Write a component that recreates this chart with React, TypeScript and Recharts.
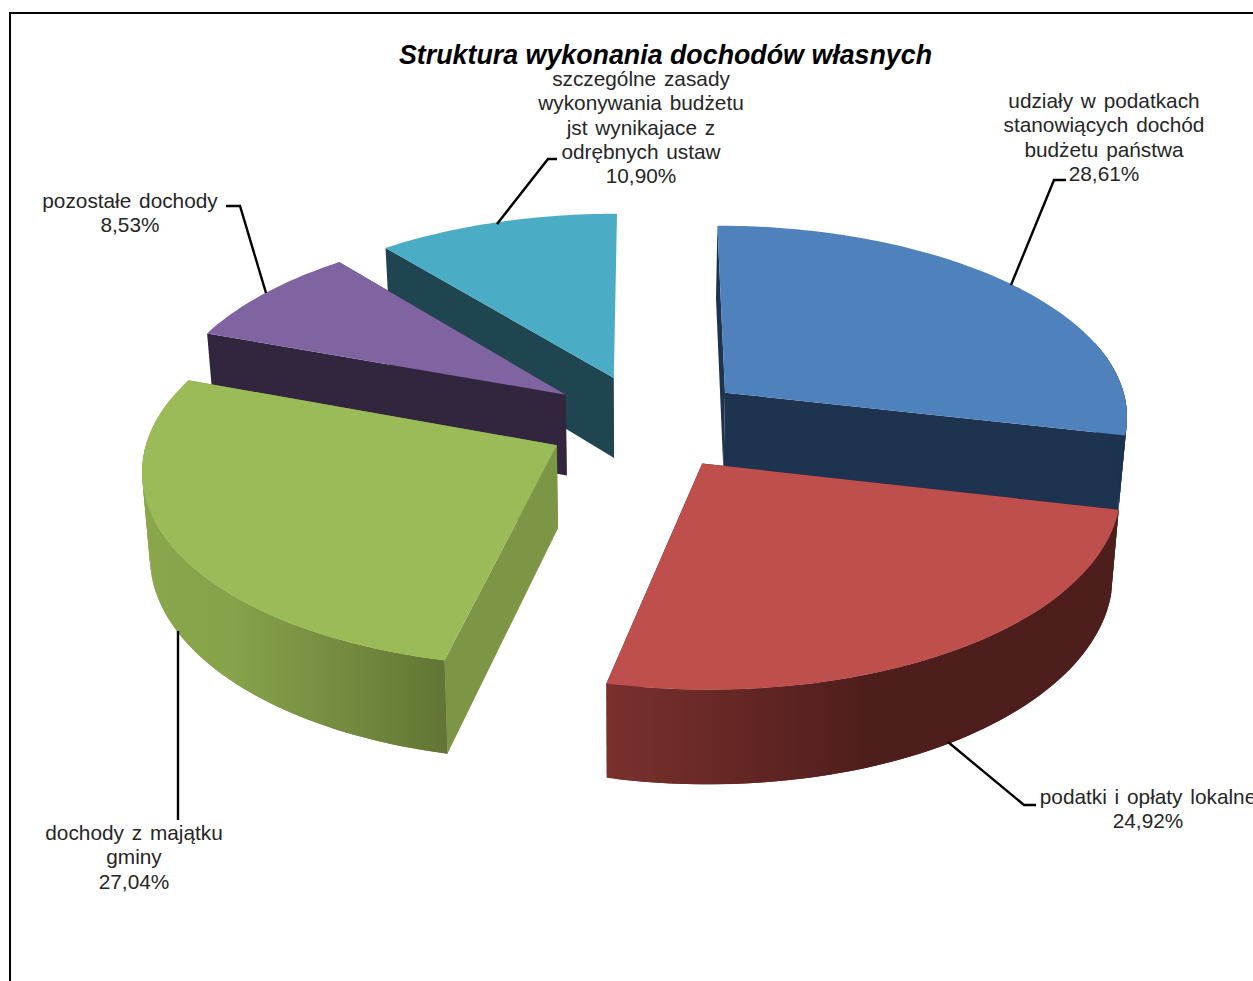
import { PieChart, Pie } from 'recharts';

const TITLE = 'Struktura wykonania dochodów własnych';

// painted back to front, so the list starts at blue and runs counter-clockwise
const NAMES = ['udziały', 'szczególne', 'pozostałe', 'majątek', 'podatki'];
const VALUES = [28.61, 10.9, 8.53, 27.04, 24.92];
const LABEL_LINES = [
  ['udziały w podatkach', 'stanowiących dochód', 'budżetu państwa'],
  ['szczególne zasady', 'wykonywania budżetu', 'jst wynikajace z', 'odrębnych ustaw'],
  ['pozostałe dochody'],
  ['dochody z majątku', 'gminy'],
  ['podatki i opłaty lokalne'],
];

const TOP_COLORS = ['#4F81BD', '#4BACC6', '#8064A2', '#9BBB59', '#BE4F4C'];
const SIDE_COLORS = ['#1D3350', '#1E4550', '#32263F', '#7D9646', '#4E1E1C'];

const W = 1253;
const H = 981;
const CX = 647;
const CY = 422;
const RADIUS = 405.5;
const TILT = 0.4722; // vertical squash of the pie plane
const PERSP = 0.11;
const EXPLODE = 0.25;
const DEPTH = 82;
const VANISH_X = 630;
const BOTTOM_SCALE = 0.984;
const FONT = '"Liberation Sans", Arial, sans-serif';

// where the text of each label sits and how its leader runs
const LABEL_LAYOUT = [
  { x: 1104, y: 108, leader: '1011,285 1054,180 1066,180' },
  { x: 641, y: 86, leader: '497,224 548,159 557,159' },
  { x: 130, y: 208, leader: '266,293 240,206 226,206' },
  { x: 134, y: 840, leader: '178,631 178,820' },
  { x: 1148, y: 804, leader: '948,742 1024,805 1036,805' },
];

const chartData = NAMES.map((name, i) => ({ name, value: VALUES[i], index: i }));
const START_ANGLE = 90 - VALUES[0] * 3.6;

const project = (u: number, v: number, bottom: boolean) => {
  const w = 1 - PERSP * v;
  let x = CX + (RADIUS * u) / w;
  const y = CY + (RADIUS * TILT * v) / w + (bottom ? DEPTH / w : 0);
  if (bottom) x = VANISH_X + (x - VANISH_X) * BOTTOM_SCALE;
  return `${x.toFixed(1)},${y.toFixed(1)}`;
};

function Slice3D(props: any) {
  const { startAngle, endAngle, payload } = props;
  const i = payload?.index ?? props.index ?? 0;
  const rad = Math.PI / 180;
  const lo = Math.min(startAngle, endAngle);
  const hi = Math.max(startAngle, endAngle);
  const mid = ((lo + hi) / 2) * rad;
  const ou = EXPLODE * Math.cos(mid);
  const ov = -EXPLODE * Math.sin(mid);

  const angles: number[] = [];
  for (let a = lo; a < hi; a += 1) angles.push(a);
  angles.push(hi);

  const rim = (bottom: boolean) =>
    angles.map((a) => project(ou + Math.cos(a * rad), ov - Math.sin(a * rad), bottom));
  const topRim = rim(false);
  const botRim = rim(true);
  const apexTop = project(ou, ov, false);
  const apexBot = project(ou, ov, true);
  const side = SIDE_COLORS[i];
  const curved = i === 3 ? 'url(#wallGreen)' : i === 4 ? 'url(#wallRed)' : side;
  const hideStartWall = i === 1; // the teal slice shows no wall along its top edge

  return (
    <g>
      {!hideStartWall && (
        <polygon points={[apexTop, topRim[0], botRim[0], apexBot].join(' ')} fill={side} />
      )}
      <polygon
        points={[apexTop, topRim[topRim.length - 1], botRim[botRim.length - 1], apexBot].join(' ')}
        fill={side}
      />
      {/* overlapping quads so there are no seams, only along the part of the rim facing the viewer */}
      {angles.map((a, n) => {
        const next = Math.min(n + 2, angles.length - 1);
        if (next === n || Math.sin(a * rad) > 0.25) return null;
        return (
          <polygon
            key={n}
            points={[topRim[n], topRim[next], botRim[next], botRim[n]].join(' ')}
            fill={curved}
          />
        );
      })}
      <polygon points={[apexTop, ...topRim].join(' ')} fill={TOP_COLORS[i]} />
    </g>
  );
}

function SliceLabel(props: any) {
  const i = props.payload?.index ?? props.index;
  const layout = LABEL_LAYOUT[i];
  const lines = [...LABEL_LINES[i], `${VALUES[i].toFixed(2).replace('.', ',')}%`];
  return (
    <g>
      <polyline points={layout.leader} fill="none" stroke="#000" strokeWidth={2.4} />
      <text
        x={layout.x}
        y={layout.y}
        textAnchor="middle"
        fontFamily={FONT}
        fontSize={20.8}
        fill="#262626"
        wordSpacing={2}
      >
        {lines.map((line, n) => (
          <tspan key={n} x={layout.x} dy={n === 0 ? 0 : 24.3}>
            {line}
          </tspan>
        ))}
      </text>
    </g>
  );
}

export default function App() {
  return (
    <div style={{ position: 'absolute', left: 0, top: 0, width: W, height: H, overflow: 'hidden', background: '#fff' }}>
      <div
        style={{
          position: 'absolute',
          left: 9,
          top: 12,
          width: W,
          height: H,
          borderTop: '2px solid #000',
          borderLeft: '2px solid #000',
        }}
      />
      <div style={{ position: 'absolute', left: 0, top: 0 }}>
        <PieChart width={W} height={H} margin={{ top: 0, right: 0, bottom: 0, left: 0 }}>
          <defs>
            <linearGradient id="wallGreen" gradientUnits="userSpaceOnUse" x1={143} y1={0} x2={447} y2={0}>
              <stop offset="0" stopColor="#8AA74C" />
              <stop offset="0.3" stopColor="#86A24A" />
              <stop offset="1" stopColor="#627535" />
            </linearGradient>
            <linearGradient id="wallRed" gradientUnits="userSpaceOnUse" x1={607} y1={0} x2={1118} y2={0}>
              <stop offset="0" stopColor="#7A302D" />
              <stop offset="0.52" stopColor="#4E1E1C" />
              <stop offset="1" stopColor="#4E1E1C" />
            </linearGradient>
          </defs>
          <text
            x={665.5}
            y={64}
            textAnchor="middle"
            fontFamily={FONT}
            fontSize={26.8}
            fontWeight="bold"
            fontStyle="italic"
            fill="#000"
          >
            {TITLE}
          </text>
          <Pie
            data={chartData}
            dataKey="value"
            nameKey="name"
            cx={CX}
            cy={CY}
            innerRadius={0}
            outerRadius={RADIUS}
            startAngle={START_ANGLE}
            endAngle={START_ANGLE + 360}
            stroke="none"
            isAnimationActive={false}
            shape={Slice3D}
            inactiveShape={Slice3D}
            activeShape={Slice3D}
            label={SliceLabel}
            labelLine={false}
          />
        </PieChart>
      </div>
    </div>
  );
}
